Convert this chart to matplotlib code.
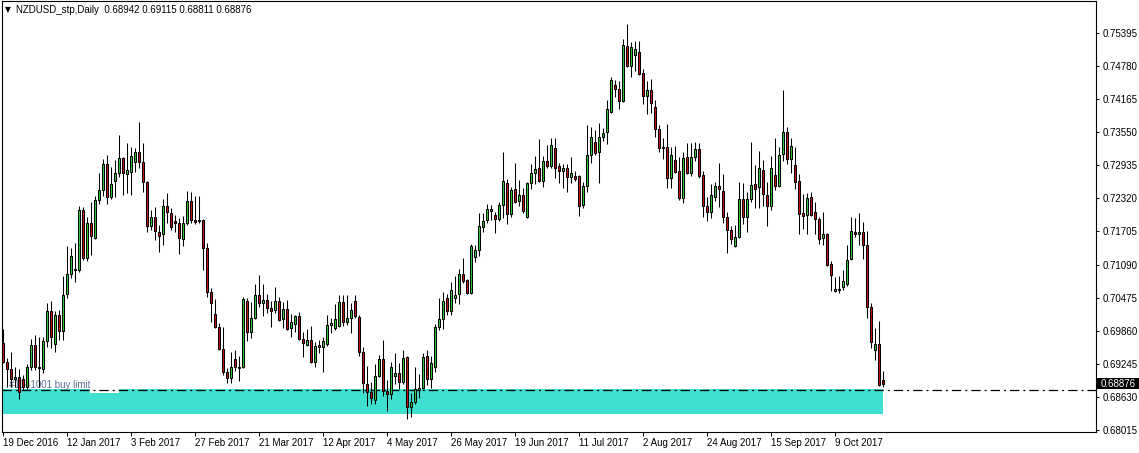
import matplotlib
matplotlib.use('Agg')
import matplotlib.pyplot as plt
from matplotlib.patches import Rectangle
from matplotlib.transforms import blended_transform_factory

plt.rcParams['font.family'] = ['Liberation Sans', 'DejaVu Sans']
plt.rcParams['font.size'] = 7

symbol = 'NZDUSD_stp,Daily'

# daily OHLC, one bar per trading day from 19 Dec 2016
opens = [
    .6963, .6928, .6915, .6896, .6900, .6896, .6882, .6919, .6960, .6918,
    .6915, .6967, .7023, .6961, .7015, .6986, .7054, .7092, .7101, .7099,
    .7211, .7121, .7186, .7159, .7229, .7248, .7296, .7235, .7265, .7279,
    .7307, .7278, .7281, .7300, .7318, .7300, .7263, .7181, .7198, .7170,
    .7166, .7218, .7205, .7190, .7186, .7157, .7186, .7227, .7192, .7190,
    .7192, .7140, .7058, .7017, .6993, .6952, .6910, .6898, .6934, .6917,
    .6919, .7041, .6984, .7010, .7053, .7038, .7043, .7028, .7025, .7041,
    .7008, .7027, .6991, .6998, .7013, .6971, .6960, .6969, .6928, .6960,
    .6956, .6961, .6997, .6991, .6995, .7040, .7002, .7010, .7041, .7011,
    .6947, .6887, .6872, .6857, .6902, .6934, .6874, .6869, .6902, .6908,
    .6891, .6937, .6845, .6854, .6876, .6880, .6939, .6896, .6919, .6993,
    .7008, .7047, .7023, .7047, .7054, .7092, .7081, .7056, .7123, .7136,
    .7179, .7192, .7209, .7201, .7194, .7220, .7261, .7203, .7250, .7227,
    .7239, .7198, .7261, .7279, .7289, .7265, .7302, .7293, .7326, .7293,
    .7283, .7289, .7272, .7274, .7274, .7220, .7255, .7313, .7337, .7318,
    .7346, .7356, .7393, .7443, .7435, .7413, .7515, .7478, .7499, .7504,
    .7465, .7422, .7434, .7402, .7361, .7328, .7328, .7270, .7304, .7283,
    .7233, .7309, .7279, .7309, .7324, .7276, .7218, .7207, .7235, .7255,
    .7246, .7198, .7173, .7144, .7160, .7231, .7198, .7231, .7259, .7253,
    .7285, .7239, .7218, .7276, .7255, .7315, .7356, .7306, .7294, .7265,
    .7205, .7201, .7235, .7207, .7194, .7159, .7166, .7110, .7060, .7064,
    .7067, .7073, .7120, .7170, .7166, .7170, .7146, .7030, .6950, .6961,
    .68942]
highs = [
    .6989, .6935, .6947, .6919, .6915, .6904, .6924, .6971, .6978, .6974,
    .6974, .7038, .7041, .7023, .7025, .7088, .7144, .7140, .7149, .7218,
    .7216, .7198, .7226, .7237, .7279, .7306, .7313, .7291, .7304, .7350,
    .7309, .7335, .7328, .7326, .7374, .7335, .7265, .7211, .7216, .7183,
    .7231, .7242, .7214, .7201, .7196, .7200, .7246, .7244, .7237, .7237,
    .7193, .7149, .7066, .7045, .7001, .6993, .6917, .6947, .6950, .6939,
    .7049, .7047, .7040, .7073, .7090, .7073, .7055, .7041, .7067, .7049,
    .7040, .7043, .7017, .7015, .7021, .6984, .6989, .6995, .6965, .6969,
    .6974, .7015, .7010, .7036, .7053, .7053, .7053, .7038, .7053, .7015,
    .6956, .6921, .6891, .6924, .6941, .6969, .6895, .6928, .6945, .6926,
    .6950, .6939, .6870, .6919, .6906, .6945, .6950, .6939, .6999, .7047,
    .7058, .7054, .7077, .7088, .7101, .7121, .7082, .7147, .7146, .7205,
    .7205, .7222, .7220, .7207, .7225, .7318, .7268, .7253, .7298, .7266,
    .7252, .7262, .7296, .7311, .7343, .7311, .7331, .7344, .7344, .7298,
    .7296, .7296, .7309, .7283, .7276, .7263, .7369, .7365, .7359, .7372,
    .7363, .7415, .7458, .7452, .7450, .7528, .7556, .7523, .7525, .7525,
    .7473, .7450, .7454, .7415, .7369, .7344, .7370, .7328, .7330, .7309,
    .7318, .7335, .7335, .7337, .7335, .7283, .7235, .7259, .7263, .7298,
    .7278, .7207, .7181, .7183, .7263, .7261, .7244, .7337, .7294, .7320,
    .7304, .7263, .7311, .7344, .7328, .7434, .7365, .7344, .7328, .7278,
    .7240, .7242, .7244, .7226, .7198, .7207, .7167, .7116, .7086, .7088,
    .7099, .7146, .7198, .7196, .7205, .7188, .7172, .7038, .6991, .7004,
    .69115]
lows = [
    .6926, .6882, .6882, .6882, .6859, .6876, .6878, .6913, .6913, .6882,
    .6908, .6956, .6954, .6947, .6969, .6969, .7047, .7084, .7077, .7095,
    .7118, .7116, .7127, .7157, .7222, .7237, .7222, .7231, .7235, .7272,
    .7239, .7242, .7239, .7281, .7289, .7244, .7170, .7173, .7155, .7133,
    .7146, .7186, .7173, .7170, .7129, .7144, .7183, .7186, .7184, .7186,
    .7099, .7049, .7002, .6991, .6950, .6904, .6889, .6889, .6911, .6893,
    .6917, .6967, .6973, .7008, .7030, .7014, .7019, .6993, .7019, .7004,
    .6991, .6988, .6974, .6984, .6969, .6937, .6958, .6926, .6919, .6945,
    .6910, .6958, .6982, .6988, .6993, .6995, .6997, .6982, .7010, .6939,
    .6870, .6846, .6850, .6850, .6900, .6865, .6837, .6859, .6887, .6878,
    .6887, .6822, .6826, .6850, .6861, .6878, .6885, .6880, .6910, .6988,
    .6989, .7015, .7015, .7038, .7036, .7075, .7055, .7055, .7114, .7125,
    .7170, .7186, .7192, .7168, .7190, .7196, .7185, .7198, .7224, .7218,
    .7205, .7196, .7250, .7259, .7263, .7253, .7289, .7289, .7270, .7261,
    .7251, .7244, .7261, .7265, .7200, .7214, .7244, .7298, .7313, .7261,
    .7339, .7333, .7391, .7421, .7398, .7411, .7476, .7458, .7469, .7462,
    .7408, .7389, .7391, .7346, .7318, .7305, .7251, .7251, .7279, .7229,
    .7224, .7278, .7274, .7302, .7270, .7198, .7190, .7196, .7227, .7216,
    .7186, .7131, .7147, .7142, .7158, .7185, .7170, .7225, .7214, .7214,
    .7218, .7181, .7211, .7248, .7253, .7302, .7296, .7279, .7250, .7166,
    .7175, .7166, .7199, .7166, .7147, .7146, .7107, .7060, .7058, .7056,
    .7062, .7069, .7118, .7160, .7146, .7120, .7010, .6954, .6932, .6884,
    .68811]
closes = [
    .6928, .6915, .6896, .6900, .6872, .6882, .6919, .6960, .6919, .6916,
    .6967, .7023, .6974, .7015, .6986, .7053, .7092, .7125, .7099, .7211,
    .7121, .7186, .7162, .7229, .7248, .7296, .7235, .7259, .7279, .7307,
    .7279, .7285, .7311, .7318, .7300, .7263, .7181, .7198, .7172, .7162,
    .7218, .7207, .7179, .7186, .7159, .7186, .7227, .7192, .7188, .7192,
    .7140, .7058, .7038, .6993, .6952, .6910, .6898, .6919, .6919, .6919,
    .7045, .6984, .7010, .7053, .7038, .7043, .7028, .7023, .7041, .7006,
    .7027, .6989, .7002, .7013, .6971, .6963, .6969, .6928, .6958, .6956,
    .6967, .6997, .7001, .7008, .7040, .7002, .7010, .7025, .7013, .6947,
    .6889, .6872, .6861, .6902, .6934, .6874, .6869, .6919, .6908, .6891,
    .6936, .6845, .6854, .6878, .6880, .6937, .6896, .6926, .6993, .7008,
    .7041, .7023, .7062, .7053, .7092, .7079, .7056, .7144, .7136, .7181,
    .7190, .7212, .7212, .7194, .7220, .7265, .7203, .7248, .7226, .7239,
    .7209, .7261, .7279, .7287, .7265, .7302, .7293, .7331, .7289, .7283,
    .7289, .7272, .7279, .7268, .7218, .7255, .7313, .7346, .7317, .7346,
    .7354, .7398, .7452, .7435, .7413, .7517, .7478, .7513, .7509, .7463,
    .7422, .7434, .7410, .7361, .7326, .7326, .7270, .7313, .7281, .7233,
    .7307, .7279, .7309, .7324, .7274, .7218, .7207, .7239, .7255, .7250,
    .7198, .7173, .7157, .7160, .7231, .7198, .7231, .7257, .7250, .7289,
    .7240, .7218, .7289, .7255, .7313, .7356, .7306, .7330, .7263, .7203,
    .7199, .7233, .7201, .7194, .7157, .7166, .7108, .7090, .7064, .7062,
    .7079, .7118, .7172, .7166, .7170, .7146, .7030, .6965, .6961, .6885,
    .68876]

date_ticks = [0, 16, 32, 48, 64, 80, 96, 112, 128, 144, 160, 176, 192, 208]
date_labels = ['19 Dec 2016', '12 Jan 2017', '3 Feb 2017', '27 Feb 2017',
               '21 Mar 2017', '12 Apr 2017', '4 May 2017', '26 May 2017',
               '19 Jun 2017', '11 Jul 2017', '2 Aug 2017', '24 Aug 2017',
               '15 Sep 2017', '9 Oct 2017']
price_ticks = [0.68015, 0.68630, 0.69245, 0.69860, 0.70475, 0.71090, 0.71705,
               0.72320, 0.72935, 0.73550, 0.74165, 0.74780, 0.75395]

order_label = '#1341001 buy limit'
order_price = 0.6876
zone_low, zone_high = 0.6832, 0.6878

W, H = 1139, 453
fig = plt.figure(figsize=(W / 100, H / 100), dpi=100)
ax = fig.add_axes([2 / W, 21 / H, 1094 / W, 431 / H])

n = len(closes)
xs = list(range(n))

# order zone + line
ax.add_patch(Rectangle((-0.25, zone_low), n - 1 + 0.25, zone_high - zone_low,
                       facecolor='#40E0D0', edgecolor='none', zorder=1))
ax.add_patch(Rectangle((21.75, 0.6870), 7.25, zone_high - 0.6870,
                       facecolor='white', edgecolor='none', zorder=1.5))
ax.axhline(order_price, color='black', lw=0.9,
           linestyle=(0, (7.5, 3.2, 1.6, 3.2)), zorder=2)
ax.text(1.6, 0.68795, order_label, color='#5c6f96', fontsize=7,
        va='baseline', ha='left', zorder=2.5)

# candles
bodies_bot = [min(o, c) for o, c in zip(opens, closes)]
bodies_h = [max(abs(c - o), 0.00002) for o, c in zip(opens, closes)]
colors = ['#33CC33' if c >= o else '#D01010' for o, c in zip(opens, closes)]
ax.vlines(xs, lows, highs, color='black', lw=0.75, zorder=3)
ax.bar(xs, bodies_h, bottom=bodies_bot, width=0.55, color=colors,
       edgecolor='black', linewidth=0.75, zorder=4)

ax.set_xlim(-0.25, 273.25)
ax.set_ylim(0.679778, 0.759897)

ax.yaxis.tick_right()
ax.set_yticks(price_ticks)
ax.set_yticklabels([f'{p:.5f}' for p in price_ticks])
ax.set_xticks(date_ticks)
ax.set_xticklabels(date_labels, ha='left')
ax.tick_params(axis='y', direction='out', length=2.5, width=0.7, pad=2)
ax.tick_params(axis='x', direction='out', length=3, width=0.7, pad=1.5)
for s in ax.spines.values():
    s.set_linewidth(0.8)

# current price box on the right scale
tr = blended_transform_factory(fig.transFigure, ax.transData)
last = closes[-1]
fig.patches.append(Rectangle((1097 / W, last - 0.00105), 42 / W, 0.0021,
                             transform=tr, facecolor='black',
                             edgecolor='none'))
fig.text(1101 / W, last, f'{last:.5f}', transform=tr, color='white',
         va='center', ha='left', fontsize=7)

# header
hy = 1 - 10 / H
fig.text(5 / W, hy, '\u25BC', family='DejaVu Sans', fontsize=5.5,
         va='center', ha='left')
fig.text(16 / W, hy,
         f'{symbol}  {opens[-1]:.5f} {highs[-1]:.5f} {lows[-1]:.5f} {closes[-1]:.5f}',
         va='center', ha='left', fontsize=7)

fig.savefig('out.png', dpi=100)
